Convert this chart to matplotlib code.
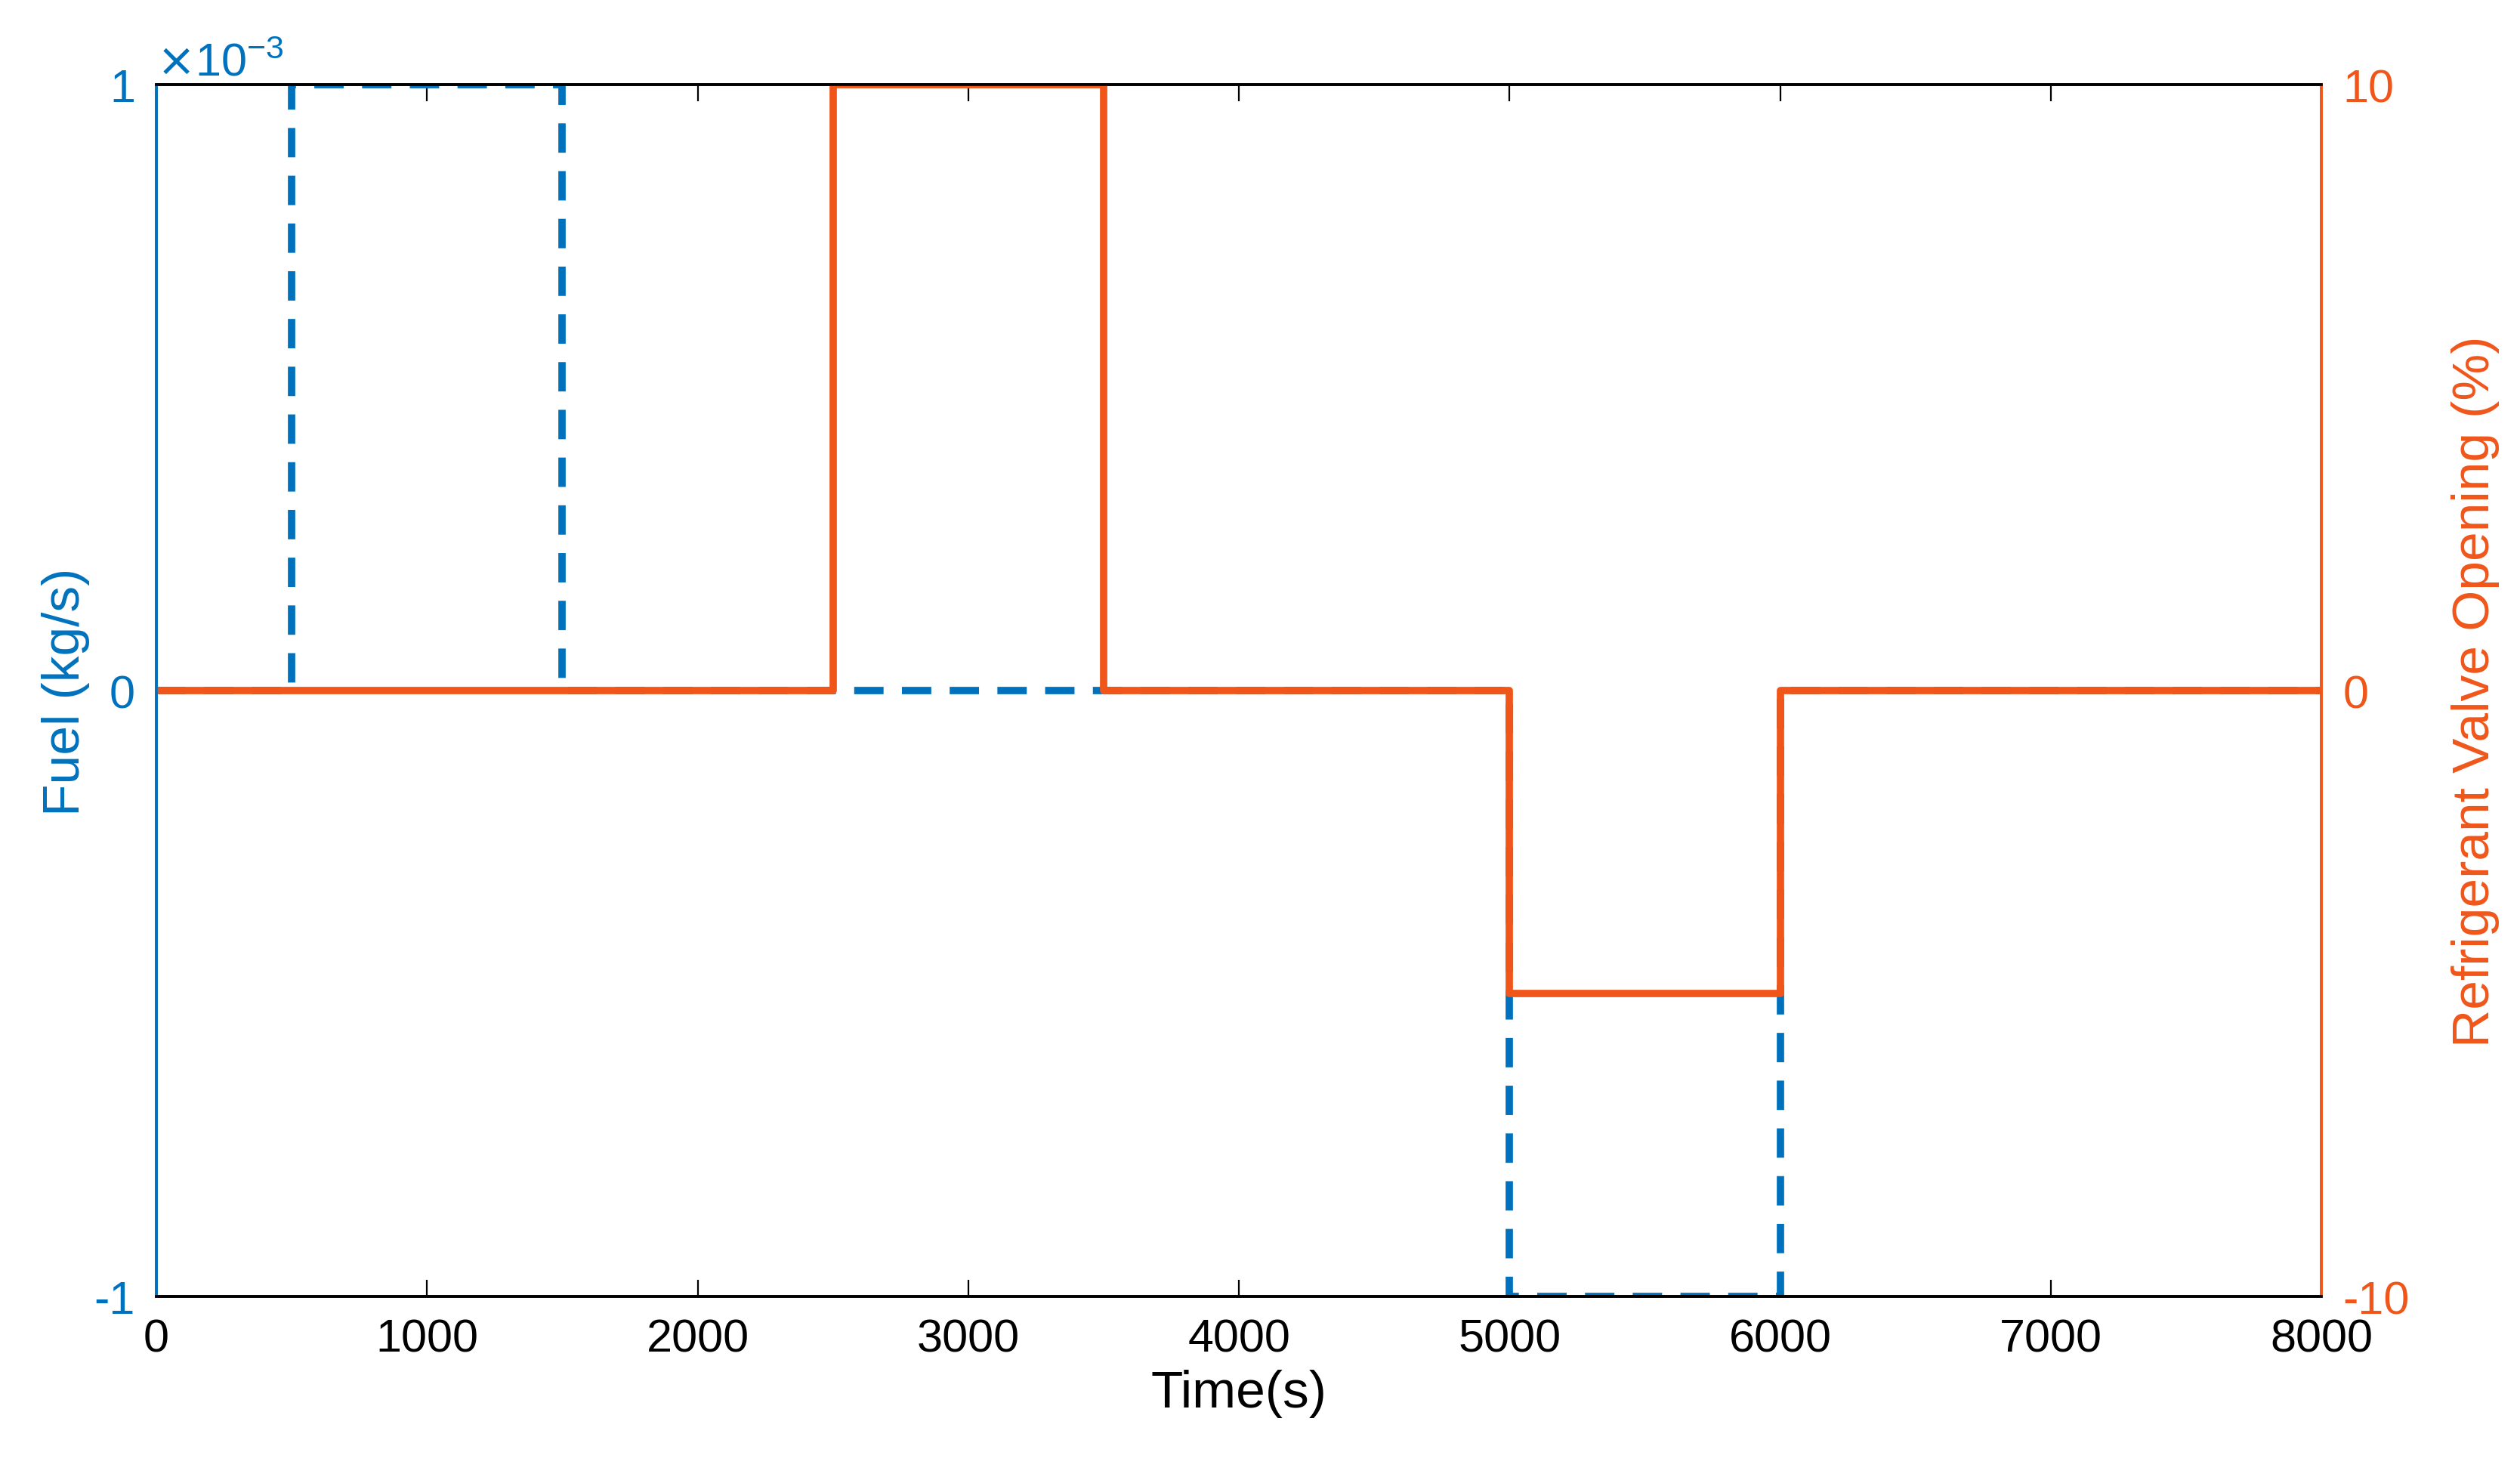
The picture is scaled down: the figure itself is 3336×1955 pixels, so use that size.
import matplotlib.pyplot as plt

plt.rcParams['font.family'] = ['Liberation Sans', 'DejaVu Sans']
plt.rcParams['axes.unicode_minus'] = False

blue = '#0072BD'
orange = '#F0561A'

fuel_t = [0, 500, 500, 1500, 1500, 5000, 5000, 6000, 6000, 8000]
fuel_v = [0, 0, 1e-3, 1e-3, 0, 0, -1e-3, -1e-3, 0, 0]
valve_t = [0, 2500, 2500, 3500, 3500, 5000, 5000, 6000, 6000, 8000]
valve_v = [0, 0, 10, 10, 0, 0, -5, -5, 0, 0]
x_ticks = [0, 1000, 2000, 3000, 4000, 5000, 6000, 7000, 8000]


def main():
    fig = plt.figure(figsize=(16.685, 9.78), dpi=200)
    ax = fig.add_axes([0.062, 0.122, 0.859, 0.82])
    ax.plot(fuel_t, fuel_v, color=blue, lw=3.5, ls=(0, (4, 2.5)))
    ax.set_xlim(0, 8000)
    ax.set_ylim(-1e-3, 1e-3)
    ax.set_yticks([-1e-3, 0, 1e-3])
    ax.set_yticklabels(['-1', '0', '1'])
    ax.set_xticks(x_ticks)
    ax.set_xlabel('Time(s)', fontsize=25, labelpad=4)
    ax.set_ylabel('Fuel (kg/s)', fontsize=25, color=blue, labelpad=2)
    ax.tick_params(axis='y', colors=blue, labelsize=22, direction='in', length=8, pad=10)
    ax.tick_params(axis='x', labelsize=22, direction='in', length=8, top=True, pad=10)
    ax.text(0.0, 1.0, r'$\times$10$^{\mathregular{-3}}$', transform=ax.transAxes,
            color=blue, fontsize=22, va='bottom', ha='left')

    ax2 = ax.twinx()
    ax2.plot(valve_t, valve_v, color=orange, lw=3.5)
    ax2.set_ylim(-10, 10)
    ax2.set_yticks([-10, 0, 10])
    ax2.set_ylabel('Refrigerant Valve Opening (%)', fontsize=25, color=orange, labelpad=20)
    ax2.tick_params(axis='y', colors=orange, labelsize=22, direction='in', length=8, pad=10)

    ax2.spines['left'].set_color(blue)
    ax2.spines['right'].set_color(orange)
    ax.spines['left'].set_color(blue)
    ax.spines['right'].set_color(orange)
    for a in (ax, ax2):
        for s in a.spines.values():
            s.set_linewidth(1.3)

    fig.savefig('out.png')


if __name__ == '__main__':
    main()
